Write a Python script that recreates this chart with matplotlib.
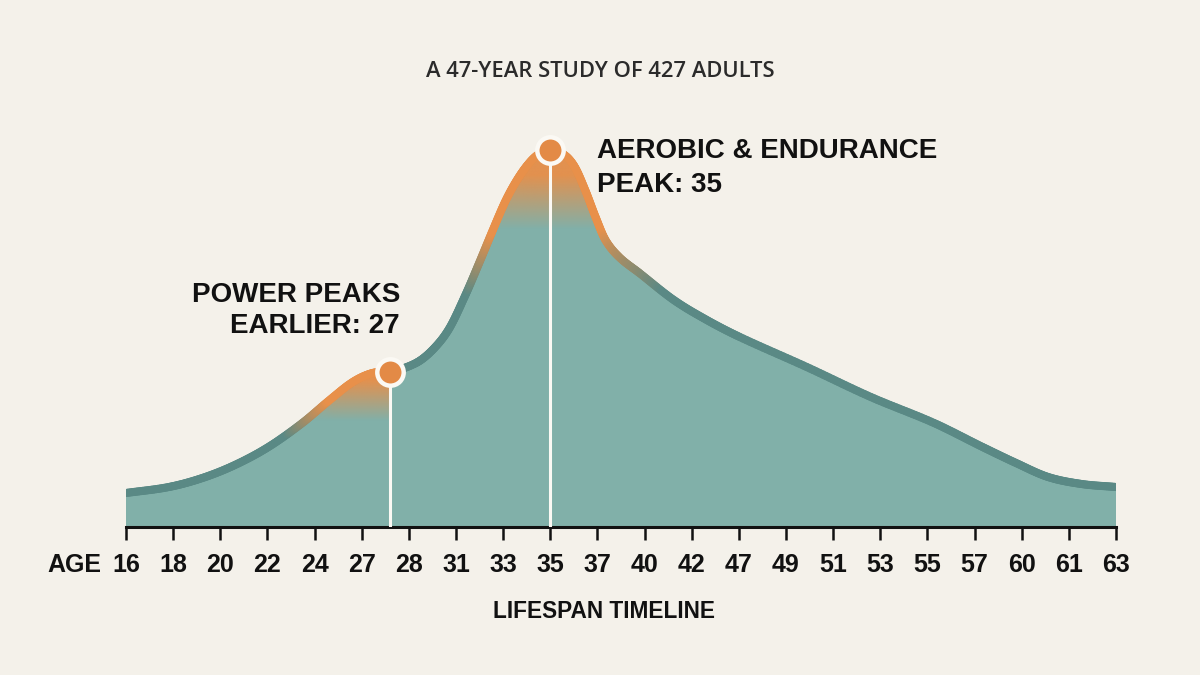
import numpy as np
import matplotlib
matplotlib.use("Agg")
import matplotlib.pyplot as plt
from matplotlib.collections import LineCollection
from matplotlib.patches import Polygon
from matplotlib.colors import to_rgb
from matplotlib.bezier import BezierSegment

# ---------------- data ----------------
age_labels = ["16", "18", "20", "22", "24", "27", "28", "31", "33", "35", "37",
              "40", "42", "47", "49", "51", "53", "55", "57", "60", "61", "63"]

# curve: position along the (evenly spaced) age axis and relative performance level
curve_pos = [0.0, 0.91, 1.62, 2.31, 3.02, 3.74, 4.32, 4.81, 5.23, 5.6, 6.15, 6.5,
             6.85, 7.2, 7.5, 7.8, 8.06, 8.32, 8.57, 8.79, 9.0, 9.3, 9.52, 9.74,
             9.96, 10.17, 10.46, 10.89, 11.62, 12.32, 13.02, 14.44, 15.8, 17.14,
             18.17, 18.88, 19.56, 20.27, 21.0]
curve_val = [34, 40, 49, 62, 80, 104, 127, 145, 154, 155, 164, 177,
             198, 232, 265, 299, 327, 349, 365, 374, 377, 372, 360, 337,
             310, 287, 270, 254, 227, 207, 190, 160, 130, 104,
             80, 64, 50, 43, 40]

power_peak_pos, power_peak_val = 5.6, 155
aerobic_peak_pos, aerobic_peak_val = 9.0, 377

title = "A 47-YEAR STUDY OF 427 ADULTS"
power_text = ["POWER PEAKS", "EARLIER: 27"]
aerobic_text = ["AEROBIC & ENDURANCE", "PEAK: 35"]
xlabel = "LIFESPAN TIMELINE"

# ---------------- style ----------------
BG = "#f4f1ea"
TEAL = "#81b0a9"
TEAL_DARK = "#5a8985"
ORANGE = "#e8904a"
DOT = "#e38a46"
WHITE = "#fbf9f4"
INK = "#111111"
FONT = ["Liberation Sans", "DejaVu Sans"]

plt.rcParams["font.family"] = FONT

W, H = 1200, 675
AX_W = 990
fig = plt.figure(figsize=(12, 6.75), dpi=100, facecolor=BG)
ax = fig.add_axes([126 / W, (H - 527) / H, AX_W / W, 527 / H])
ax.set_facecolor("none")
ax.set_xlim(0, 21)
ax.set_ylim(0, 527)

x = np.array(curve_pos, dtype=float)
y = np.array(curve_val, dtype=float)

# smooth rendering of the curve (cubic Bezier through the data points)
ppu = AX_W / 21.0
X = x * ppu
Y = y
n = len(X)
slope = np.zeros(n)
slope[1:-1] = (Y[2:] - Y[:-2]) / (X[2:] - X[:-2])
slope[0] = (Y[1] - Y[0]) / (X[1] - X[0])
slope[-1] = (Y[-1] - Y[-2]) / (X[-1] - X[-2])
pts = []
for i in range(n - 1):
    dx = X[i + 1] - X[i]
    ctrl = np.array([[X[i], Y[i]],
                     [X[i] + dx / 3, Y[i] + slope[i] * dx / 3],
                     [X[i + 1] - dx / 3, Y[i + 1] - slope[i + 1] * dx / 3],
                     [X[i + 1], Y[i + 1]]])
    t = np.linspace(0, 1, 20, endpoint=(i == n - 2))
    pts.append(BezierSegment(ctrl)(t))
pts = np.vstack(pts)
sx = pts[:, 0] / ppu
sy = pts[:, 1]

# area fill
verts = np.column_stack([np.concatenate([[sx[0]], sx, [sx[-1]]]),
                         np.concatenate([[0], sy, [0]])])
area = Polygon(verts, closed=True, facecolor=TEAL, edgecolor="none", zorder=1)
ax.add_patch(area)

# orange glow overlay clipped to the area
nx, ny = 1000, 530
gx = np.linspace(0, 21, nx)
gy = np.linspace(0, 527, ny)
GX, GY = np.meshgrid(gx, gy)
a_aero = np.clip((GY - 298) / (352 - 298), 0, 1)
a_pow = (np.clip((GY - 106) / (146 - 106), 0, 1)
         * np.clip((GX - 3.5) / (4.4 - 3.5), 0, 1)
         * (GX <= power_peak_pos))
alpha = np.maximum(a_aero, a_pow) * 0.95
img = np.zeros((ny, nx, 4))
img[..., :3] = to_rgb(ORANGE)
img[..., 3] = alpha
im = ax.imshow(img, extent=(0, 21, 0, 527), origin="lower", aspect="auto",
               zorder=2, interpolation="bilinear")
im.set_clip_path(area)

# white drop lines
for p, v in [(power_peak_pos, power_peak_val), (aerobic_peak_pos, aerobic_peak_val)]:
    ax.plot([p, p], [0, v], color=WHITE, lw=2.2, zorder=3, solid_capstyle="butt")

# curve line with colour shift near peaks
segs = np.stack([np.column_stack([sx[:-1], sy[:-1]]),
                 np.column_stack([sx[1:], sy[1:]])], axis=1)
xm = (sx[:-1] + sx[1:]) / 2
vm = (sy[:-1] + sy[1:]) / 2
a_line = np.maximum(np.clip((vm - 235) / (295 - 235), 0, 1),
                    np.clip((xm - 3.4) / (4.3 - 3.4), 0, 1) * (xm <= power_peak_pos))
c0 = np.array(to_rgb(TEAL_DARK))
c1 = np.array(to_rgb(ORANGE))
cols = c0[None, :] * (1 - a_line[:, None]) + c1[None, :] * a_line[:, None]
lc = LineCollection(segs, colors=cols, linewidths=5.8, capstyle="round",
                    joinstyle="round", zorder=4)
ax.add_collection(lc)

# peak dots
ax.plot([power_peak_pos, aerobic_peak_pos], [power_peak_val, aerobic_peak_val], "o",
        ms=19, mfc=DOT, mec=WHITE, mew=3.2, zorder=5, clip_on=False)

# axis
for s in ["top", "left", "right"]:
    ax.spines[s].set_visible(False)
ax.spines["bottom"].set_linewidth(2.2)
ax.spines["bottom"].set_color(INK)
ax.set_yticks([])
ax.set_xticks(range(len(age_labels)))
ax.set_xticklabels(age_labels, fontsize=18, fontweight="bold", color=INK)
ax.tick_params(axis="x", length=9.4, width=1.8, color=INK, pad=9.4)

# texts
fig.text(101 / W, (H - 572) / H, "AGE", ha="right", va="baseline",
         fontsize=18, fontweight="bold", color=INK)
fig.text(600 / W, (H - 77.3) / H, title, ha="center", va="baseline",
         fontsize=15.8, fontweight="semibold", color="#2b2b2b",
         family=["Open Sans", "Liberation Sans", "DejaVu Sans"])
fig.text(400 / W, (H - 302) / H, power_text[0], ha="right", va="baseline",
         fontsize=20, fontweight="bold", color=INK)
fig.text(400 / W, (H - 333) / H, power_text[1], ha="right", va="baseline",
         fontsize=20, fontweight="bold", color=INK)
fig.text(597 / W, (H - 158) / H, aerobic_text[0], ha="left", va="baseline",
         fontsize=20, fontweight="bold", color=INK)
fig.text(597 / W, (H - 192) / H, aerobic_text[1], ha="left", va="baseline",
         fontsize=20, fontweight="bold", color=INK)
fig.text(604 / W, (H - 618) / H, xlabel, ha="center", va="baseline",
         fontsize=16.3, fontweight="bold", color=INK)

fig.savefig("out.png", dpi=100, facecolor=BG)
